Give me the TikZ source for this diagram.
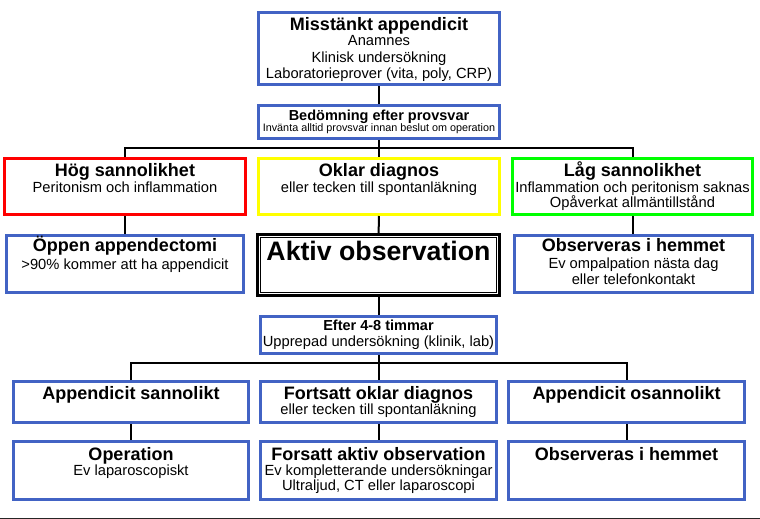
\documentclass[tikz,border=0pt]{standalone}
\usepackage{fontspec}
\setmainfont{Liberation Sans}
\definecolor{boxblue}{RGB}{66,99,196}
\definecolor{boxred}{RGB}{255,0,0}
\definecolor{boxyellow}{RGB}{255,255,0}
\definecolor{boxgreen}{RGB}{0,255,0}
\newcommand\ttlA[1]{{\bfseries\fontsize{18}{16}\selectfont #1}}
\newcommand\ttlB[1]{{\bfseries\fontsize{14.5}{16}\selectfont #1}}
\begin{document}
\begin{tikzpicture}[x=1pt,y=-1pt,
  box/.style={rectangle, draw=boxblue, line width=3pt, inner sep=0pt},
  conn/.style={draw=black, line width=2pt},
  txt/.style={anchor=base, align=center, inner sep=0pt, font=\fontsize{14.7}{16}\selectfont}]
\useasboundingbox[fill=white] (0,0) rectangle (760,519);
% boxes
\node[box, minimum width=241pt, minimum height=72pt] (top) at (379,48.5) {};
\node[box, minimum width=241pt, minimum height=33pt] (bed) at (379,122) {};
\node[box, draw=boxred, minimum width=241pt, minimum height=56pt] (hog) at (125,186.5) {};
\node[box, draw=boxyellow, minimum width=241pt, minimum height=56pt] (oklar) at (379,186.5) {};
\node[box, draw=boxgreen, minimum width=240pt, minimum height=56pt] (lag) at (632.5,186.5) {};
\node[box, minimum width=237pt, minimum height=57pt] (oppen) at (125,264) {};
\node[box, draw=black, line width=3.3pt, minimum width=242pt, minimum height=61pt] (aktiv) at (378.5,265) {};
\node[box, minimum width=238pt, minimum height=57pt] (obs) at (633.5,264) {};
\node[box, minimum width=236pt, minimum height=37pt] (efter) at (378.5,335) {};
\node[box, minimum width=235pt, minimum height=41pt] (appsan) at (131,402) {};
\node[box, minimum width=236pt, minimum height=41pt] (fort) at (378.5,402) {};
\node[box, minimum width=236pt, minimum height=41pt] (appos) at (626.5,402) {};
\node[box, minimum width=235pt, minimum height=58pt] (oper) at (131,470.5) {};
\node[box, minimum width=236pt, minimum height=58pt] (forsatt) at (378.5,470.5) {};
\node[box, minimum width=236pt, minimum height=58pt] (obs2) at (626.5,470.5) {};
% inner thin line of the double frame
\draw[line width=1pt] ([shift={(4.5,-4.5)}]aktiv.south west) rectangle ([shift={(-4.5,4.5)}]aktiv.north east);
% connectors
\coordinate (bus1) at (379,148);
\coordinate (bus2) at (378.5,363);
\draw[conn] (top) -- (bed);
\draw[conn] (bed) -- (oklar);
\draw[conn] (hog.north) |- (bus1) -| (lag.north);
\draw[conn] (hog) -- (oppen);
\draw[conn] (oklar) -- (aktiv);
\draw[conn] (lag.south) -- (lag.south |- obs.north);
\draw[conn] (aktiv) -- (efter);
\draw[conn] (efter) -- (fort);
\draw[conn] (appsan.north) |- (bus2) -| (appos.north);
\draw[conn] (appsan) -- (oper);
\draw[conn] (fort) -- (forsatt);
\draw[conn] (appos) -- (obs2);
% bottom rule
\draw[line width=1pt, black!85] (0,518) -- (760,518);
% texts (anchor = baseline of the last line)
\node[txt] (ttop) at (379,78.7) {\ttlA{Misstänkt appendicit}\\[-0.7pt]Anamnes\\[0.7pt]Klinisk undersökning\\Laboratorieprover (vita, poly, CRP)};
\node[txt] (tbed) at (379,131) {\ttlB{Bedömning efter provsvar}\\[-5.7pt]{\fontsize{10.8}{12}\selectfont Invänta alltid provsvar innan beslut om operation}};
\node[txt] (thog) at (125,192.7) {\ttlA{Hög sannolikhet}\\[0.7pt]Peritonism och inflammation};
\node[txt] (toklar) at (379,192.7) {\ttlA{Oklar diagnos}\\[0.7pt]eller tecken till spontanläkning};
\node[txt] (tlag) at (632.5,207.7) {\ttlA{Låg sannolikhet}\\[0.7pt]Inflammation och peritonism saknas\\[-1pt]Opåverkat allmäntillstånd};
\node[txt] (toppen) at (125,269) {\ttlA{Öppen appendectomi}\\[1.3pt]>90\% kommer att ha appendicit};
\node[txt] (taktiv) at (378.5,260.7) {\bfseries\fontsize{26.7}{30}\selectfont Aktiv observation};
\node[txt] (tobs) at (633.5,284) {\ttlA{Observeras i hemmet}\\[0.5pt]Ev ompalpation nästa dag\\eller telefonkontakt};
\node[txt] (tefter) at (378.5,346) {\ttlB{Efter 4-8 timmar}\\[-0.7pt]Upprepad undersökning (klinik, lab)};
\node[txt] (tappsan) at (131,399) {\ttlA{Appendicit sannolikt}};
\node[txt] (tfort) at (378.5,414.3) {\ttlA{Fortsatt oklar diagnos}\\[-0.7pt]eller tecken till spontanläkning};
\node[txt] (tappos) at (626.5,399) {\ttlA{Appendicit osannolikt}};
\node[txt] (toper) at (131,475) {\ttlA{Operation}\\[-1pt]Ev laparoscopiskt};
\node[txt] (tforsatt) at (378.5,490) {\ttlA{Forsatt aktiv observation}\\[-1pt]Ev kompletterande undersökningar\\[-1pt]Ultraljud, CT eller laparoscopi};
\node[txt] (tobs2) at (626.5,460) {\ttlA{Observeras i hemmet}};
\end{tikzpicture}
\end{document}
